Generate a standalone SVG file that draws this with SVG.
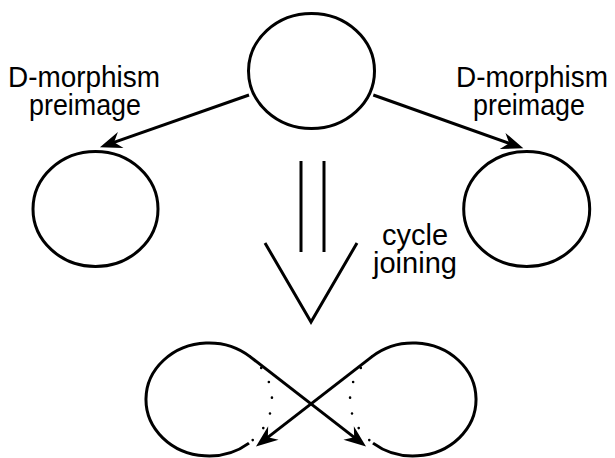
<svg xmlns="http://www.w3.org/2000/svg" width="615" height="458" viewBox="0 0 615 458">
  <style>
    .shape { fill: none; stroke: #000; stroke-width: 3; }
    .edge { fill: none; stroke: #000; stroke-width: 3; marker-end: url(#barb); }
    .dots { fill: none; stroke: #000; stroke-width: 2.6; stroke-linecap: round; stroke-dasharray: 0 16; }
    .label { font-family: "Liberation Sans", Arial, sans-serif; font-size: 30px; fill: #000; text-anchor: middle; }
  </style>
  <defs>
    <marker id="barb" markerUnits="userSpaceOnUse" viewBox="-24 -10 26 20" markerWidth="26" markerHeight="20" refX="-8" refY="0" orient="auto">
      <path d="M0,0 L-22,-8.5 L-15,0 L-22,8.5 Z" fill="#000"/>
    </marker>
  </defs>
  <rect width="615" height="458" fill="#fff"/>

  <!-- cycles -->
  <g id="top-cycle">
    <ellipse class="shape" cx="311.5" cy="71" rx="63" ry="57.5"/>
  </g>
  <g id="left-cycle">
    <ellipse class="shape" cx="95.5" cy="209" rx="62.5" ry="57.5"/>
  </g>
  <g id="right-cycle">
    <ellipse class="shape" cx="526.7" cy="209" rx="63" ry="57.5"/>
  </g>

  <!-- joined cycle: two loops crossing in the middle -->
  <g id="joined-cycle">
    <path class="shape" d="M250,356.6 A63,56.5 0 1 0 249,443.1"/>
    <path class="dots" d="M250,356.6 A63,56.5 0 0 1 249,443.1"/>
    <path class="shape" d="M372,356.6 A63,56.5 0 1 1 373,443.1"/>
    <path class="dots" d="M372,356.6 A63,56.5 0 0 0 373,443.1"/>
  </g>

  <!-- labels -->
  <g id="label-left">
    <text class="label" x="84" y="87" textLength="152" lengthAdjust="spacingAndGlyphs">D-morphism</text>
    <text class="label" x="85" y="115" textLength="112" lengthAdjust="spacingAndGlyphs">preimage</text>
  </g>
  <g id="label-right">
    <text class="label" x="532" y="87" textLength="152" lengthAdjust="spacingAndGlyphs">D-morphism</text>
    <text class="label" x="529" y="115" textLength="112" lengthAdjust="spacingAndGlyphs">preimage</text>
  </g>
  <g id="label-join">
    <text class="label" x="415" y="245" textLength="66" lengthAdjust="spacingAndGlyphs">cycle</text>
    <text class="label" x="415" y="273" textLength="84" lengthAdjust="spacingAndGlyphs">joining</text>
  </g>

  <!-- connectors -->
  <g id="connectors">
    <line class="edge" x1="249" y1="95" x2="107.5" y2="144.6"/>
    <line class="edge" x1="373.3" y1="95" x2="515.8" y2="145.6"/>
    <line class="edge" x1="250" y1="356.6" x2="359.7" y2="441.6"/>
    <line class="edge" x1="372" y1="356.6" x2="262.3" y2="441.6"/>
    <!-- implication arrow -->
    <line class="shape" x1="301" y1="161" x2="301" y2="252"/>
    <line class="shape" x1="324" y1="161" x2="324" y2="252"/>
    <polyline class="shape" points="265,243 311,322 357,243"/>
  </g>
</svg>
